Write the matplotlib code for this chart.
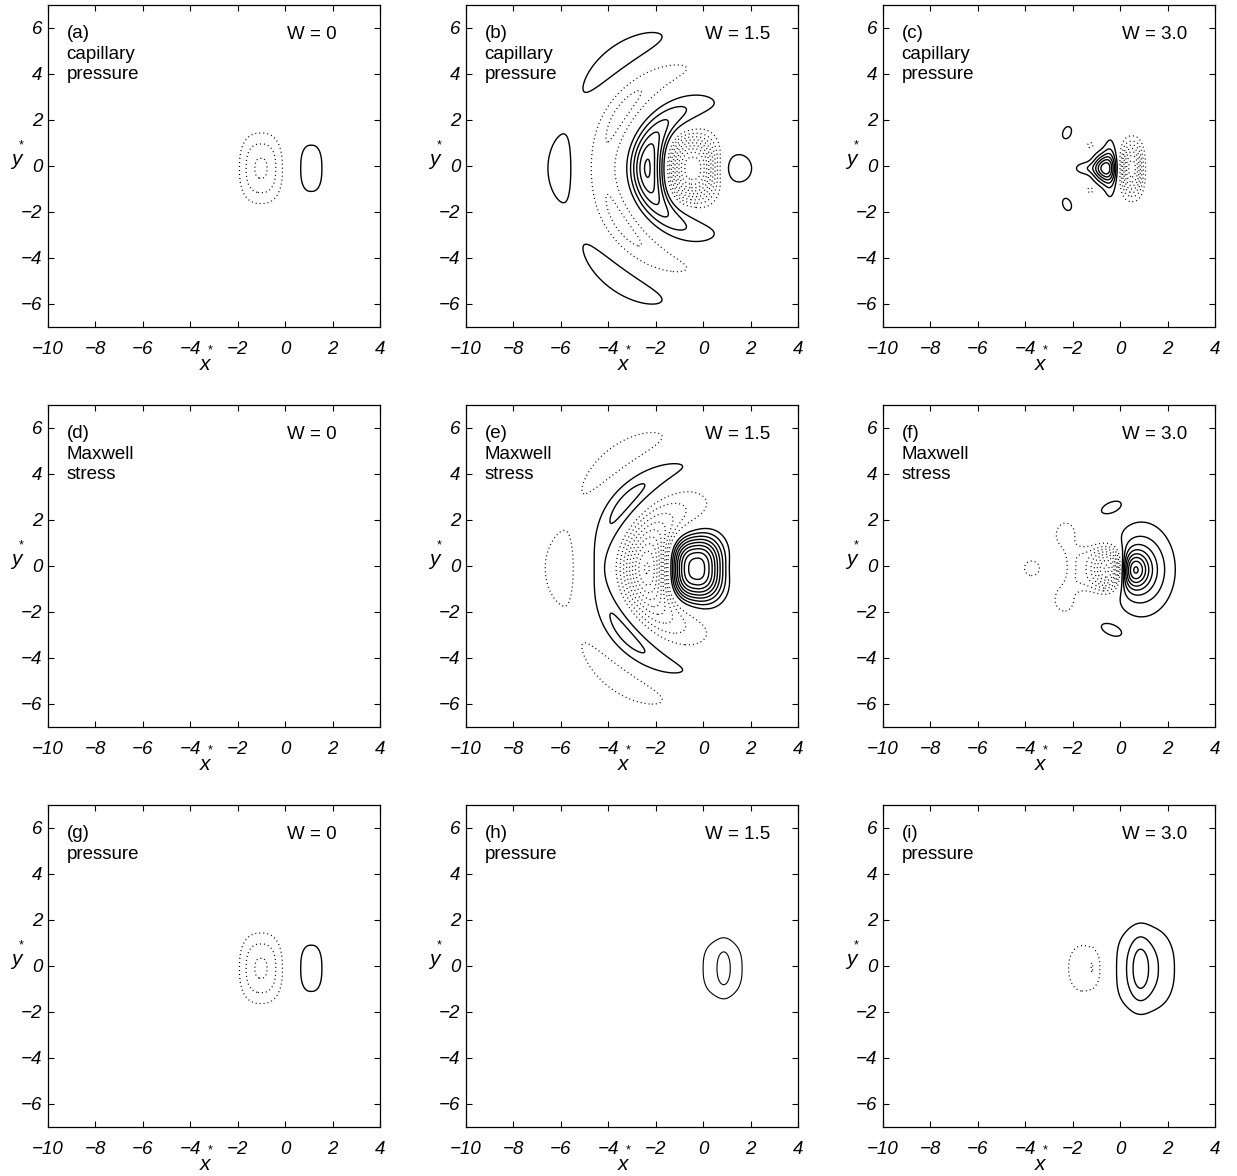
import numpy as np
import matplotlib
matplotlib.use("Agg")
import matplotlib.pyplot as plt

plt.rcParams["font.family"] = ["Liberation Sans", "DejaVu Sans"]

# ---------------------------------------------------------------- axes setup
X_RANGE = (-10.0, 4.0)
Y_RANGE = (-7.0, 7.0)
X_TICKS = [-10, -8, -6, -4, -2, 0, 2, 4]
Y_TICKS = [-6, -4, -2, 0, 2, 4, 6]

PANEL_TAGS = ["(a)", "(b)", "(c)", "(d)", "(e)", "(f)", "(g)", "(h)", "(i)"]
ROW_NAMES = [["capillary", "pressure"], ["Maxwell", "stress"], ["pressure"]]
W_LABELS = ["W = 0", "W = 1.5", "W = 3.0"]
CONTOUR_STEP = 1.0

# ---------------------------------------------------------------- field data
# blob rows: x0, y0, amplitude, sx, sy, tilt (deg), superellipse exponent
# arc rows : xc, yc, radius, angle (deg), amplitude, radial width,
#            angular width (deg), angular exponent
CAP_W0_BLOBS = [
    (-1.02, -0.10, -3.15, 0.65, 1.10, 0, 2.5),
    (1.10, -0.10, 1.60, 0.46, 1.03, 0, 2.5),
]
CAP_W0_ARCS = []

CAP_W15_BLOBS = [
    (-0.44, -0.10, -9.7, 0.70, 1.00, 0, 2.6),
    (1.50, -0.10, 1.8, 0.50, 0.55, 0, 2),
]
CAP_W15_ARCS = [
    (0.5, -0.1, 2.85, 180, 4.4, 0.50, 52, 2),
    (0.5, -0.1, 2.85, 180, 1.8, 0.45, 20, 2),
    (0.2, -0.1, 4.45, 180, -1.5, 0.50, 80, 4),
    (0.2, -0.1, 4.25, 145, -0.9, 0.45, 19, 2),
    (0.2, -0.1, 4.25, 215, -0.9, 0.45, 19, 2),
    (0.0, -0.1, 6.05, 180, 1.48, 0.55, 14, 2),
    (0.0, -0.1, 6.00, 126, 1.90, 0.45, 17, 2),
    (0.0, -0.1, 6.00, 234, 1.90, 0.45, 17, 2),
]

CAP_W30_BLOBS = [
    (-0.70, -0.10, 5.6, 0.30, 0.42, 0, 2),
    (-0.42, -0.10, 2.2, 0.20, 0.95, 0, 2),
    (-1.45, -0.10, 1.6, 0.40, 0.22, 0, 2),
    (0.50, -0.12, -7.5, 0.32, 0.80, 0, 2.4),
    (-2.24, 1.45, 1.6, 0.18, 0.28, -20, 2),
    (-2.24, -1.67, 1.6, 0.18, 0.28, 20, 2),
    (-1.25, 0.90, -1.4, 0.15, 0.15, 0, 2),
    (-1.25, -1.04, -1.4, 0.15, 0.15, 0, 2),
]
CAP_W30_ARCS = []

MAX_W0_BLOBS = []
MAX_W0_ARCS = []

MAX_W15_BLOBS = [
    (-0.34, -0.12, 9.7, 0.85, 1.07, 0, 2.6),
    (1.60, -0.10, -0.9, 0.35, 0.50, 0, 2),
]
MAX_W15_ARCS = [
    (0.5, -0.1, 2.85, 180, -6.0, 0.75, 44, 2),
    (0.5, -0.1, 2.85, 180, -3.2, 0.60, 20, 2),
    (0.2, -0.1, 4.55, 180, 1.10, 0.42, 88, 4),
    (0.2, -0.1, 4.35, 140, 1.50, 0.55, 20, 2),
    (0.2, -0.1, 4.35, 220, 1.50, 0.55, 20, 2),
    (0.0, -0.1, 6.05, 180, -1.48, 0.68, 15, 2),
    (0.0, -0.1, 6.00, 126, -1.90, 0.45, 17, 2),
    (0.0, -0.1, 6.00, 234, -1.90, 0.45, 17, 2),
]

MAX_W30_BLOBS = [
    (0.50, -0.17, 6.0, 0.45, 0.55, 0, 2),
    (0.90, -0.15, 3.5, 0.90, 1.30, 0, 2),
    (-0.40, -0.12, -8.0, 0.50, 0.60, 0, 2),
    (-1.20, -0.12, -2.2, 0.90, 0.80, 0, 4),
    (-2.30, 1.35, -1.7, 0.38, 0.50, 0, 2),
    (-2.35, -1.45, -1.7, 0.38, 0.50, 0, 2),
    (-3.72, -0.10, -1.5, 0.35, 0.35, 0, 2),
    (-0.40, 2.55, 1.40, 0.45, 0.22, 25, 2),
    (-0.40, -2.78, 1.40, 0.45, 0.22, -25, 2),
]
MAX_W30_ARCS = []

PRES_W0_BLOBS = CAP_W0_BLOBS + MAX_W0_BLOBS
PRES_W0_ARCS = CAP_W0_ARCS + MAX_W0_ARCS

PRES_W15_BLOBS = [
    (0.82, -0.10, 1.6, 0.84, 1.20, 0, 2.6),
    (0.87, -0.10, 1.0, 0.22, 0.70, 0, 2),
]
PRES_W15_ARCS = []

PRES_W30_BLOBS = [
    (1.02, -0.12, 2.2, 1.05, 1.50, 0, 2.4),
    (0.85, -0.12, 1.6, 0.30, 0.95, 0, 2),
    (-1.30, -0.10, -1.60, 0.62, 0.95, 0, 2.5),
    (-1.95, -0.10, -0.60, 0.40, 0.75, 0, 2),
    (-1.18, -0.05, -0.50, 0.06, 0.45, 0, 2),
]
PRES_W30_ARCS = []

FIELDS = [
    [(CAP_W0_BLOBS, CAP_W0_ARCS), (CAP_W15_BLOBS, CAP_W15_ARCS), (CAP_W30_BLOBS, CAP_W30_ARCS)],
    [(MAX_W0_BLOBS, MAX_W0_ARCS), (MAX_W15_BLOBS, MAX_W15_ARCS), (MAX_W30_BLOBS, MAX_W30_ARCS)],
    [(PRES_W0_BLOBS, PRES_W0_ARCS), (PRES_W15_BLOBS, PRES_W15_ARCS), (PRES_W30_BLOBS, PRES_W30_ARCS)],
]
LINE_WIDTHS = [[1.0, 1.0, 1.0], [1.0, 1.0, 1.0], [1.0, 0.8, 1.0]]

# ---------------------------------------------------------------- grid
xg = np.linspace(X_RANGE[0], X_RANGE[1], 701)
yg = np.linspace(Y_RANGE[0], Y_RANGE[1], 701)
X, Y = np.meshgrid(xg, yg)


def build_field(blobs, arcs):
    z = np.zeros_like(X)
    for x0, y0, amp, sx, sy, tilt, p in blobs:
        t = np.radians(tilt)
        dx, dy = X - x0, Y - y0
        u = (dx * np.cos(t) + dy * np.sin(t)) / sx
        v = (-dx * np.sin(t) + dy * np.cos(t)) / sy
        z += amp * np.exp(-0.5 * (np.abs(u) ** p + np.abs(v) ** p))
    for xc, yc, r0, th0, amp, wr, wth, q in arcs:
        r = np.hypot(X - xc, Y - yc)
        th = np.degrees(np.arctan2(Y - yc, X - xc))
        d = (th - th0 + 180.0) % 360.0 - 180.0
        z += amp * np.exp(-0.5 * ((r - r0) / wr) ** 2 - 0.5 * np.abs(d / wth) ** q)
    return z


# ---------------------------------------------------------------- figure
W_PX, H_PX = 1237, 1176
fig = plt.figure(figsize=(W_PX / 100, H_PX / 100), dpi=100)

col_left = [48, 466, 883]
row_top = [5, 405, 805]
ax_w, ax_h = 332, 322
FS = 13.5

for r in range(3):
    for c in range(3):
        left = col_left[c] / W_PX
        bottom = 1 - (row_top[r] + ax_h) / H_PX
        ax = fig.add_axes([left, bottom, ax_w / W_PX, ax_h / H_PX])
        blobs, arcs = FIELDS[r][c]
        z = build_field(blobs, arcs)
        zmax = np.abs(z).max()
        lw = LINE_WIDTHS[r][c]
        if zmax >= CONTOUR_STEP:
            n = int(np.floor(zmax / CONTOUR_STEP))
            pos = CONTOUR_STEP * np.arange(1, n + 1)
            neg = -pos[::-1]
            if z.max() >= CONTOUR_STEP:
                ax.contour(X, Y, z, levels=pos, colors="black",
                           linewidths=lw, linestyles="solid")
            if z.min() <= -CONTOUR_STEP:
                ax.contour(X, Y, z, levels=neg, colors="black",
                           linewidths=0.9, linestyles=[(0, (0.8, 2.4))])

        ax.set_xlim(*X_RANGE)
        ax.set_ylim(*Y_RANGE)
        ax.set_xticks(X_TICKS)
        ax.set_yticks(Y_TICKS)
        ax.tick_params(direction="in", top=True, right=True, length=4,
                       width=0.8, labelsize=FS)
        ax.tick_params(axis="x", pad=10)
        ax.tick_params(axis="y", pad=4)
        for lab in ax.get_xticklabels() + ax.get_yticklabels():
            lab.set_fontstyle("italic")
        for sp in ax.spines.values():
            sp.set_linewidth(0.9)

        ax.text(-9.21, 5.56, PANEL_TAGS[3 * r + c], fontsize=FS,
                ha="left", va="baseline")
        for k, line in enumerate(ROW_NAMES[r]):
            ax.text(-9.21, 5.56 - 0.89 * (k + 1), line, fontsize=FS,
                    ha="left", va="baseline")
        ax.text(0.08, 5.51, W_LABELS[c], fontsize=FS, ha="left", va="baseline")

        ax.text(0.474, -0.115, "x", transform=ax.transAxes, fontsize=15,
                fontstyle="italic", ha="center", va="center")
        ax.text(0.489, -0.072, "*", transform=ax.transAxes, fontsize=9,
                ha="center", va="center")
        ax.text(-0.096, 0.52, "y", transform=ax.transAxes, fontsize=15,
                fontstyle="italic", ha="center", va="center")
        ax.text(-0.08, 0.565, "*", transform=ax.transAxes, fontsize=9,
                ha="center", va="center")

fig.savefig("out.png", dpi=100)
